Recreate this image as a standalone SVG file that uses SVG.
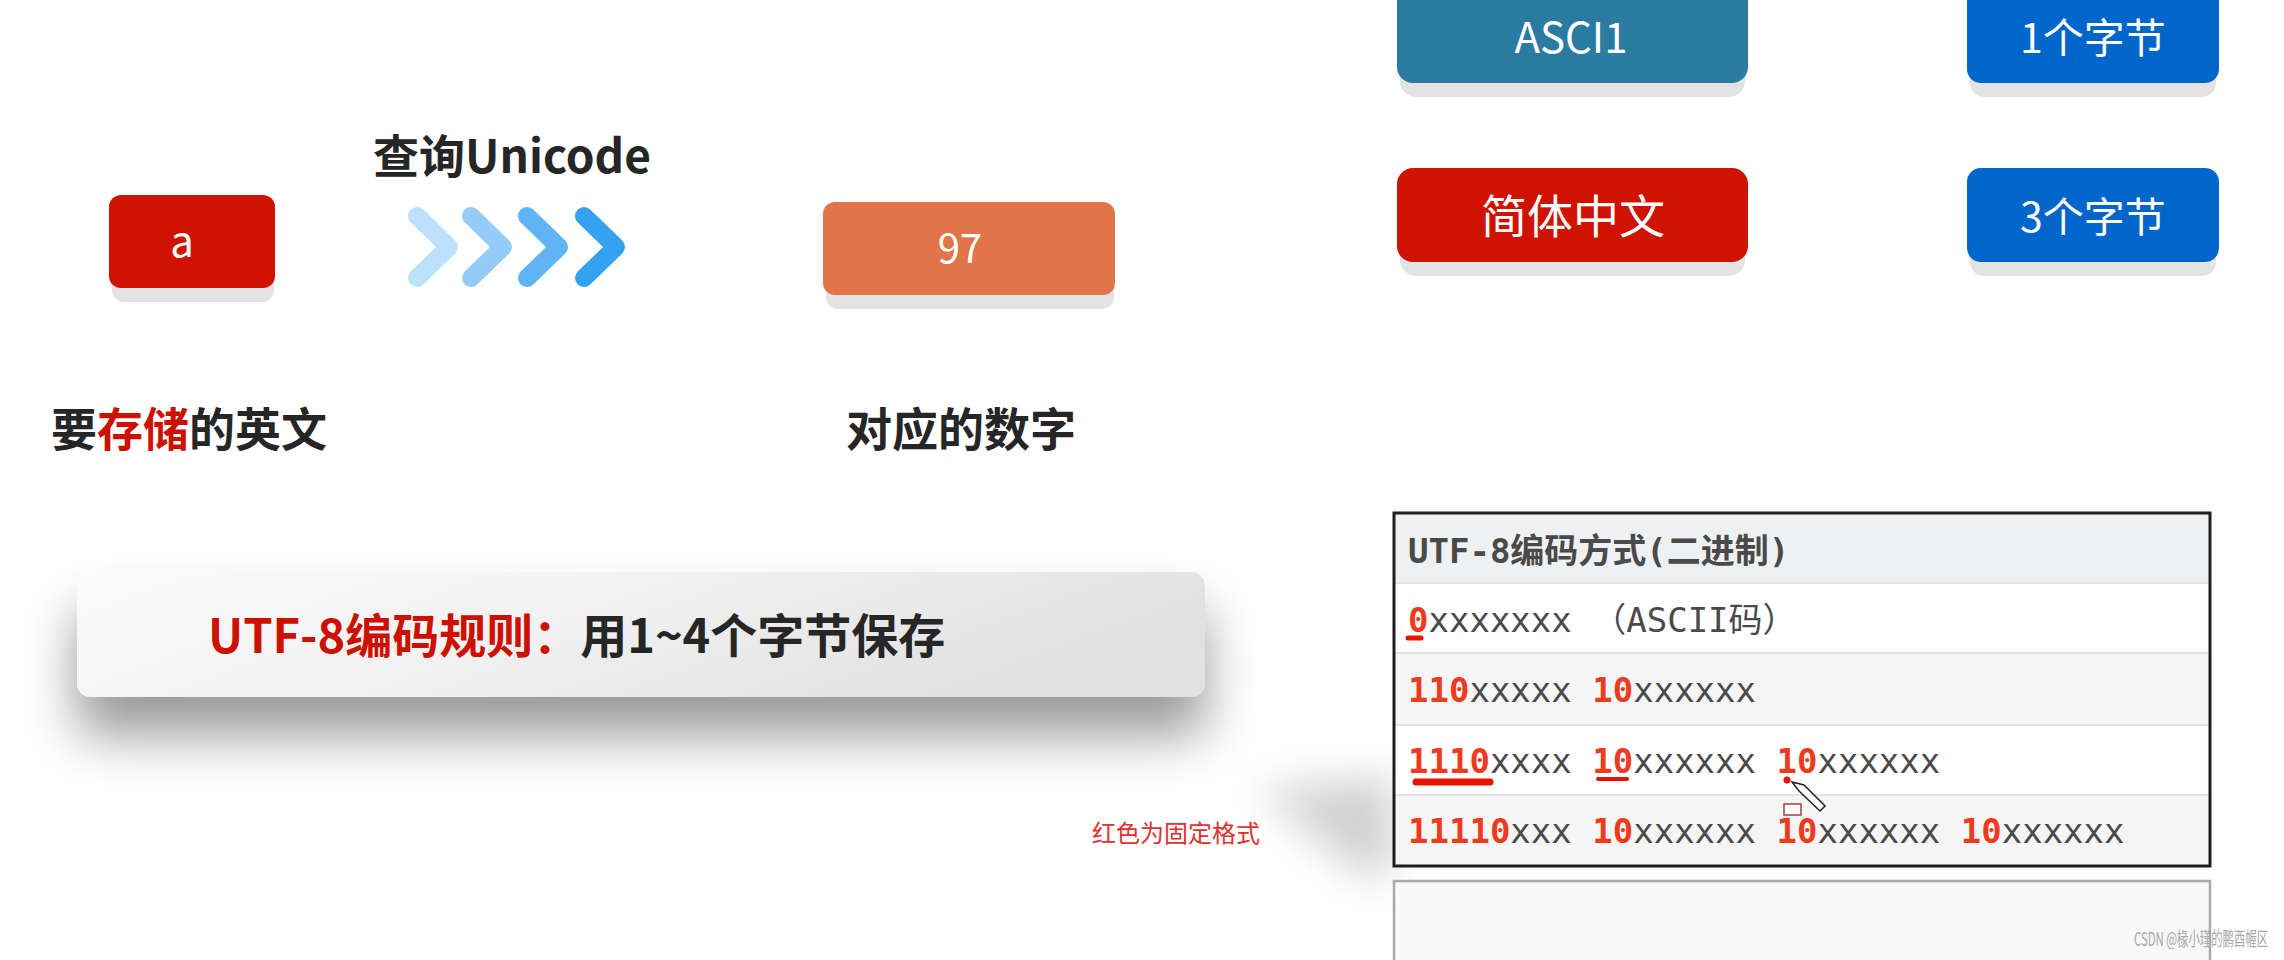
<svg xmlns="http://www.w3.org/2000/svg" width="2284" height="960" viewBox="0 0 2284 960">
<defs>
<style>
.cjk{font-family:"Noto Sans CJK SC","Noto Sans",sans-serif}
.bold{font-weight:700}
.dark{fill:#262626}
.red{fill:#cc1100}
.white{fill:#ffffff}
.shadow{fill:#e3e3e3}
.mono{font-family:"DejaVu Sans Mono","Noto Sans CJK SC",monospace;font-size:34px}
.fix{fill:#ee3a1e;font-weight:700}
.var{fill:#4a4a4a}
.chev{fill:none;stroke-width:18;stroke-linecap:round;stroke-linejoin:round}
.ul{stroke:#e81200;stroke-linecap:round}
</style>
<linearGradient id="ruleGrad" x1="0" y1="0" x2="1" y2="0.3">
<stop offset="0" stop-color="#fbfbfb"/>
<stop offset="0.5" stop-color="#f1f1f1"/>
<stop offset="1" stop-color="#e1e1e1"/>
</linearGradient>
<filter id="bigShadow" x="-10%" y="-40%" width="120%" height="220%">
<feDropShadow dx="0" dy="38" stdDeviation="26" flood-color="#000" flood-opacity="0.4"/>
</filter>
<filter id="blur" x="-60%" y="-60%" width="220%" height="220%">
<feGaussianBlur stdDeviation="20"/>
</filter>
</defs>
<rect width="2284" height="960" fill="#ffffff"/>

<!-- shadow wedge left of table -->
<polygon points="1258,790 1394,776 1394,874 1360,874" fill="#9a9a9a" opacity="0.45" filter="url(#blur)"/>

<g id="node-a">
<rect x="112" y="208" width="162" height="94" rx="12" class="shadow"/>
<rect x="109" y="195" width="166" height="93" rx="12" fill="#d01300"/>
<text x="182" y="257" text-anchor="middle" class="cjk white" font-size="42">a</text>
</g>

<g id="label-unicode">
<text x="512" y="173" text-anchor="middle" class="cjk bold dark" font-size="46">查询Unicode</text>
</g>

<g id="connectors">
<polyline class="chev" stroke="#bde0fb" points="417,216 449,247 417,278"/>
<polyline class="chev" stroke="#94cbf7" points="471,216 503,247 471,278"/>
<polyline class="chev" stroke="#5fb4f4" points="527,216 559,247 527,278"/>
<polyline class="chev" stroke="#35a2f0" points="584,216 616,247 584,278"/>
</g>

<g id="node-97">
<rect x="826" y="215" width="288" height="94" rx="12" class="shadow"/>
<rect x="823" y="202" width="292" height="93" rx="12" fill="#e0754a"/>
<text x="960" y="263" text-anchor="middle" class="cjk white" font-size="40">97</text>
</g>

<g id="label-english">
<text x="51" y="446" class="cjk bold dark" font-size="46">要<tspan class="red">存储</tspan>的英文</text>
</g>

<g id="label-number">
<text x="846" y="446" class="cjk bold dark" font-size="46">对应的数字</text>
</g>

<g id="rule-box">
<rect x="77" y="572" width="1128" height="125" rx="14" fill="url(#ruleGrad)" filter="url(#bigShadow)"/>
<text x="208" y="653" class="cjk bold" font-size="47"><tspan class="red">UTF-8编码规则：</tspan><tspan class="dark">用1~4个字节保存</tspan></text>
</g>

<g id="node-ascii">
<rect x="1400" y="0" width="345" height="97" rx="16" class="shadow"/>
<rect x="1397" y="-20" width="351" height="103" rx="16" fill="#2b7ba0"/>
<text x="1571" y="53" text-anchor="middle" class="cjk white" font-size="42">ASCI1</text>
</g>

<g id="node-1byte">
<rect x="1970" y="0" width="246" height="97" rx="14" class="shadow"/>
<rect x="1967" y="-20" width="252" height="103" rx="14" fill="#0066cc"/>
<text x="2093" y="53" text-anchor="middle" class="cjk white" font-size="41">1个字节</text>
</g>

<g id="node-chinese">
<rect x="1400" y="182" width="345" height="94" rx="16" class="shadow"/>
<rect x="1397" y="168" width="351" height="94" rx="16" fill="#d01300"/>
<text x="1573" y="233" text-anchor="middle" class="cjk white" font-size="46">简体中文</text>
</g>

<g id="node-3byte">
<rect x="1970" y="182" width="246" height="94" rx="14" class="shadow"/>
<rect x="1967" y="168" width="252" height="94" rx="14" fill="#0066cc"/>
<text x="2093" y="232" text-anchor="middle" class="cjk white" font-size="41">3个字节</text>
</g>

<g id="label-red-note">
<text x="1092" y="842" class="cjk" font-size="24" fill="#e03030">红色为固定格式</text>
</g>

<g id="utf8-table">
<rect x="1394" y="513" width="816" height="70" fill="#eef0f1"/>
<rect x="1394" y="583" width="816" height="70" fill="#ffffff"/>
<rect x="1394" y="653" width="816" height="72" fill="#f5f5f5"/>
<rect x="1394" y="725" width="816" height="70" fill="#ffffff"/>
<rect x="1394" y="795" width="816" height="71" fill="#f5f5f5"/>
<g stroke="#e4e4e4" stroke-width="2">
<line x1="1394" y1="583" x2="2210" y2="583"/>
<line x1="1394" y1="653" x2="2210" y2="653"/>
<line x1="1394" y1="725" x2="2210" y2="725"/>
<line x1="1394" y1="795" x2="2210" y2="795"/>
</g>
<rect x="1394" y="513" width="816" height="353" fill="none" stroke="#1e1e1e" stroke-width="3"/>
<text x="1408" y="563" class="mono bold" font-size="36" fill="#4a4a4a">UTF-8编码方式(二进制)</text>
<text x="1408" y="632" class="mono" xml:space="preserve"><tspan class="fix">0</tspan><tspan class="var">xxxxxxx （ASCII码）</tspan></text>
<text x="1408" y="702" class="mono" xml:space="preserve"><tspan class="fix">110</tspan><tspan class="var">xxxxx </tspan><tspan class="fix">10</tspan><tspan class="var">xxxxxx</tspan></text>
<text x="1408" y="773" class="mono" xml:space="preserve"><tspan class="fix">1110</tspan><tspan class="var">xxxx </tspan><tspan class="fix">10</tspan><tspan class="var">xxxxxx </tspan><tspan class="fix">10</tspan><tspan class="var">xxxxxx</tspan></text>
<text x="1408" y="843" class="mono" xml:space="preserve"><tspan class="fix">11110</tspan><tspan class="var">xxx </tspan><tspan class="fix">10</tspan><tspan class="var">xxxxxx </tspan><tspan class="fix">10</tspan><tspan class="var">xxxxxx </tspan><tspan class="fix">10</tspan><tspan class="var">xxxxxx</tspan></text>
<line class="ul" x1="1408" y1="638" x2="1421" y2="638" stroke-width="5"/>
<line class="ul" x1="1416" y1="782" x2="1490" y2="782" stroke-width="7"/>
<line class="ul" x1="1598" y1="779" x2="1627" y2="779" stroke-width="4"/>
<circle cx="1787" cy="780" r="3.5" fill="#e81200"/>
<polygon points="1792,782 1804,785 1825,806 1820,811 1799,791" fill="#ffffff" stroke="#222" stroke-width="1.5"/>
<rect x="1784" y="804" width="17" height="11" fill="#ffffff" stroke="#a04040" stroke-width="1.5"/>
</g>

<g id="lower-box">
<rect x="1394" y="881" width="816" height="90" fill="#f8f8f8" stroke="#a8a8a8" stroke-width="2.5"/>
</g>

<g id="watermark">
<text x="2134" y="946" class="cjk" font-size="19" fill="#a8a8a8" textLength="134" lengthAdjust="spacingAndGlyphs">CSDN @椽小瑾的鹏酉幄区</text>
</g>
</svg>
